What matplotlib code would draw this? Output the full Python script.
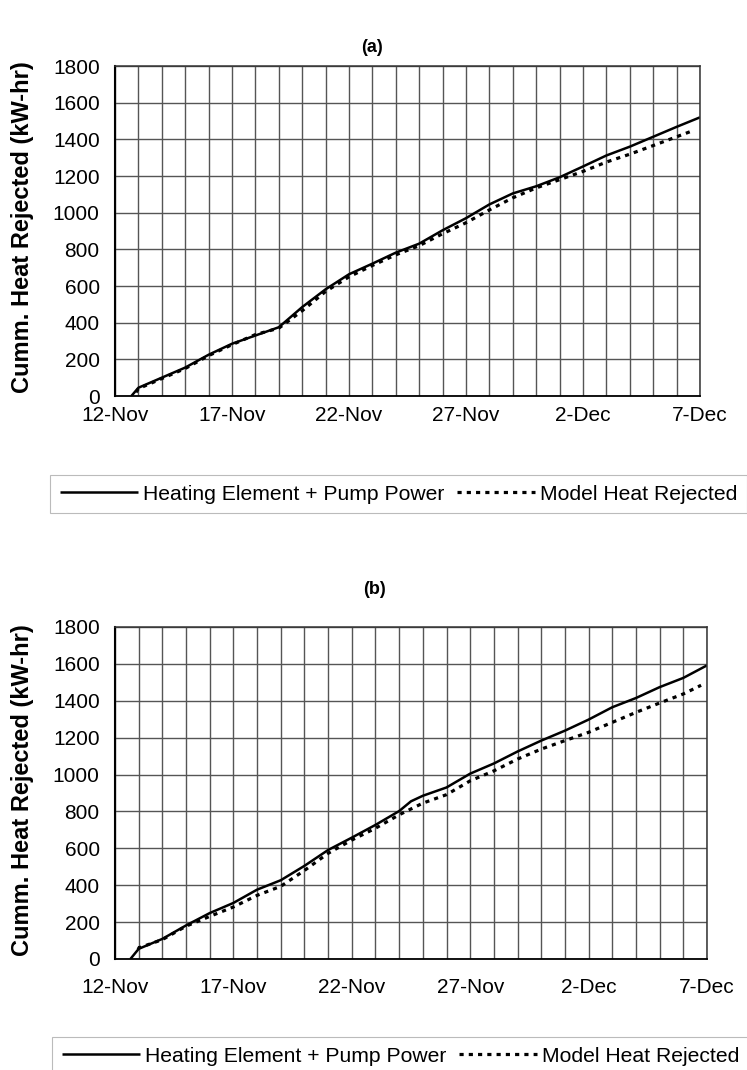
import matplotlib
matplotlib.use("Agg")
import matplotlib.pyplot as plt
from matplotlib.ticker import MultipleLocator, FixedLocator

plt.rcParams['font.family'] = ['Liberation Sans', 'DejaVu Sans']

# ---------------- data (x = days after 12-Nov) ----------------
tick_days = [0, 5, 10, 15, 20, 25]
tick_labels = ["12-Nov", "17-Nov", "22-Nov", "27-Nov", "2-Dec", "7-Dec"]
y_ticks = [0, 200, 400, 600, 800, 1000, 1200, 1400, 1600, 1800]

a_power_x = [0.7, 1, 2, 3, 4, 5, 6, 7, 8, 9, 10, 11, 12, 13, 14, 15, 16, 17, 18, 19, 20, 21, 22, 23, 24, 25]
a_power_y = [0, 45, 100, 155, 225, 285, 330, 375, 485, 582, 664, 722, 782, 831, 904, 970, 1045, 1105, 1144, 1193, 1252, 1312, 1360, 1414, 1468, 1520]

a_model_x = [0.9, 1, 2, 3, 4, 5, 6, 7, 8, 9, 10, 11, 12, 13, 14, 15, 16, 17, 18, 19, 20, 21, 22, 23, 24, 24.75]
a_model_y = [20, 40, 95, 150, 220, 280, 335, 370, 465, 570, 650, 712, 770, 820, 885, 945, 1015, 1081, 1135, 1180, 1225, 1276, 1319, 1366, 1414, 1450]

b_power_x = [0.65, 1, 2, 3, 4, 5, 6, 7, 8, 9, 10, 11, 12, 12.5, 13, 14, 15, 16, 17, 18, 19, 20, 21, 22, 23, 24, 25]
b_power_y = [0, 55, 109, 182, 249, 304, 376, 427, 505, 591, 658, 727, 802, 855, 885, 930, 1005, 1060, 1125, 1184, 1238, 1298, 1365, 1415, 1474, 1524, 1592]

b_model_x = [0.95, 1, 2, 3, 4, 5, 6, 7, 8, 9, 10, 11, 12, 13, 14, 15, 16, 17, 18, 19, 20, 21, 22, 23, 24, 24.75]
b_model_y = [64, 60, 105, 178, 231, 282, 345, 394, 480, 573, 645, 709, 782, 845, 891, 966, 1020, 1084, 1138, 1184, 1229, 1283, 1337, 1388, 1437, 1484]

label_power = "Heating Element + Pump Power"
label_model = "Model Heat Rejected"

W, H = 747, 1070
fig = plt.figure(figsize=(W / 100, H / 100), dpi=100)
fig.patch.set_facecolor("white")

ax_a = fig.add_axes([115 / W, 1 - 396 / H, 585 / W, 330 / H])
ax_b = fig.add_axes([115 / W, 1 - 959 / H, 592 / W, 332 / H])

grid_col = "#555555"

def style(ax, px, py, mx, my, xpad):
    l1, = ax.plot(px, py, color="black", lw=1.8, solid_capstyle="butt")
    l2, = ax.plot(mx, my, color="black", lw=2.3, linestyle=(0, (1.3, 1.6)))
    ax.set_xlim(0, 25)
    ax.set_ylim(0, 1800)
    ax.xaxis.set_major_locator(FixedLocator(tick_days))
    ax.set_xticklabels(tick_labels)
    ax.xaxis.set_minor_locator(MultipleLocator(1))
    ax.set_yticks(y_ticks)
    ax.set_yticklabels([str(v) for v in y_ticks])
    ax.grid(True, which="both", color=grid_col, lw=1.0)
    ax.set_axisbelow(True)
    ax.tick_params(axis="both", which="both", length=0)
    ax.tick_params(axis="x", labelsize=15, pad=xpad)
    ax.tick_params(axis="y", labelsize=15, pad=11)
    for s in ax.spines.values():
        s.set_color("#333333")
        s.set_linewidth(1.1)
    ax.spines["left"].set_color("black")
    ax.spines["left"].set_linewidth(1.5)
    ax.spines["bottom"].set_color("black")
    ax.spines["bottom"].set_linewidth(1.3)
    return l1, l2

la1, la2 = style(ax_a, a_power_x, a_power_y, a_model_x, a_model_y, 7.5)
lb1, lb2 = style(ax_b, b_power_x, b_power_y, b_model_x, b_model_y, 14)

fig.text(372 / W, 1 - 47 / H, "(a)", ha="center", va="center", fontsize=13, fontweight="bold")
fig.text(375 / W, 1 - 590 / H, "(b)", ha="center", va="center", fontsize=13, fontweight="bold")

ylab = "Cumm. Heat Rejected (kW-hr)"
fig.text(23 / W, 1 - 227 / H, ylab, rotation=90, ha="center", va="center", fontsize=17, fontweight="bold")
fig.text(23 / W, 1 - 790 / H, ylab, rotation=90, ha="center", va="center", fontsize=17, fontweight="bold")

def add_legend(h1, h2, x_left, y_center):
    leg = fig.legend([h1, h2], [label_power, label_model], ncol=2,
                     loc="center left", bbox_to_anchor=(x_left / W, 1 - y_center / H),
                     fontsize=15.2, frameon=True, fancybox=False, handlelength=3.7,
                     handletextpad=0.25, columnspacing=0.6, borderpad=0.45,
                     borderaxespad=0.0)
    fr = leg.get_frame()
    fr.set_edgecolor("#aaaaaa")
    fr.set_linewidth(0.8)
    return leg

add_legend(la1, la2, 50, 494)
add_legend(lb1, lb2, 52, 1056)

fig.savefig("out.png", dpi=100, facecolor="white")
